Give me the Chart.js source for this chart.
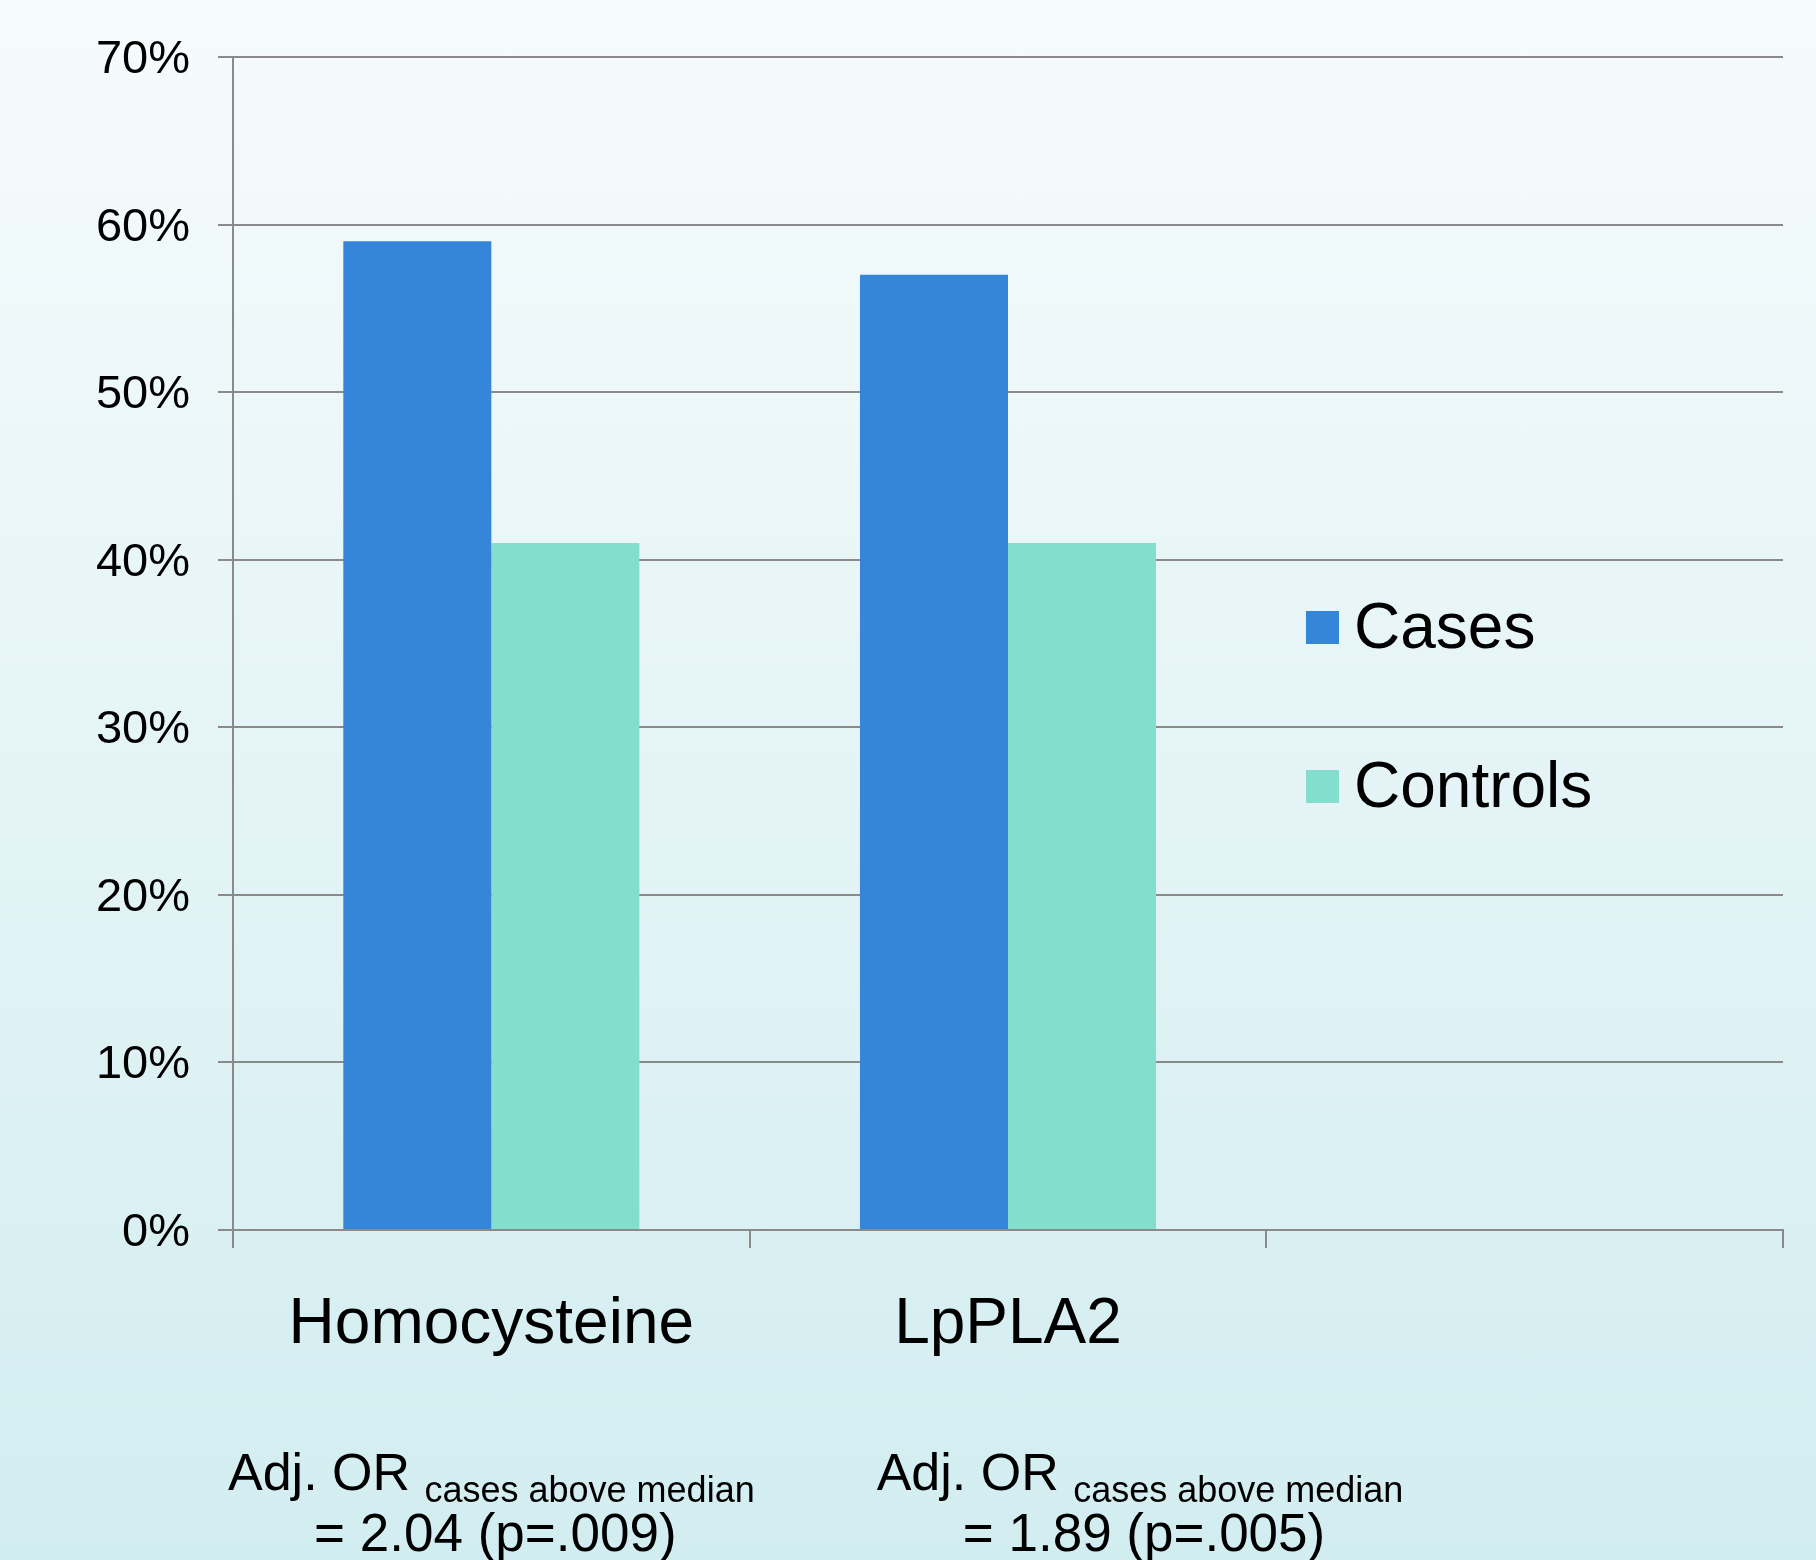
<!DOCTYPE html>
<html>
<head>
<meta charset="utf-8">
<script src="https://cdn.jsdelivr.net/npm/chart.js@4.4.0/dist/chart.umd.min.js"></script>
<style>
  html, body { margin: 0; padding: 0; }
  body {
    width: 1816px; height: 1560px;
    background: linear-gradient(to bottom, #f6fbfc 0%, #e6f5f7 45%, #d2edf0 100%);
  }
  #wrap { width: 1816px; height: 1560px; position: relative; }
</style>
</head>
<body>
<div id="wrap"><canvas id="barChart" width="1816" height="1560"></canvas></div>
<script>
var categories = ['Homocysteine', 'LpPLA2', ''];
var cases = [59, 57, null];
var controls = [41, 41, null];
var seriesNames = ['Cases', 'Controls'];
var orMain = ['Adj. OR', 'Adj. OR'];
var orSub = ['cases above median', 'cases above median'];
var orValue = ['= 2.04 (p=.009)', '= 1.89 (p=.005)'];

var FONT = '"Liberation Sans", Arial, Helvetica, sans-serif';

// legend drawn inside the plot, on the empty third slot
var insideLegend = {
    id: 'insideLegend',
    afterDraw: function(chart) {
        var ctx = chart.ctx;
        var rows = [628, 787];
        ctx.save();
        ctx.font = '64px ' + FONT;
        ctx.textBaseline = 'middle';
        ctx.textAlign = 'left';
        chart.data.datasets.forEach(function(ds, i) {
            ctx.fillStyle = ds.backgroundColor;
            ctx.fillRect(1306, rows[i] - 17, 33, 33);
            ctx.fillStyle = '#000';
            ctx.fillText(ds.label, 1354, rows[i] + 2);
        });
        ctx.restore();
    }
};

// odds ratio notes under each category
var orNotes = {
    id: 'orNotes',
    afterDraw: function(chart) {
        var ctx = chart.ctx;
        var x = chart.scales.x;
        var shift = [0, 132];
        ctx.save();
        ctx.fillStyle = '#000';
        ctx.textAlign = 'left';
        ctx.textBaseline = 'alphabetic';
        for (var i = 0; i < orMain.length; i++) {
            var cx = x.getPixelForValue(i) + shift[i];
            ctx.font = '52px ' + FONT;
            var w1 = ctx.measureText(orMain[i] + ' ').width;
            ctx.font = '36px ' + FONT;
            var w2 = ctx.measureText(orSub[i]).width;
            var start = cx - (w1 + w2) / 2;
            ctx.font = '52px ' + FONT;
            ctx.fillText(orMain[i], start, 1490);
            ctx.font = '36px ' + FONT;
            ctx.fillText(orSub[i], start + w1, 1502);
            ctx.font = '53px ' + FONT;
            ctx.textAlign = 'center';
            ctx.fillText(orValue[i], cx + 4, 1551);
            ctx.textAlign = 'left';
        }
        ctx.restore();
    }
};

var ctx = document.getElementById('barChart');
var myChart = new Chart(ctx, {
    type: 'bar',
    data: {
        labels: categories,
        datasets: [{
            label: seriesNames[0],
            data: cases,
            backgroundColor: '#3586d8',
            categoryPercentage: 0.573,
            barPercentage: 1.0
        }, {
            label: seriesNames[1],
            data: controls,
            backgroundColor: '#84decd',
            categoryPercentage: 0.573,
            barPercentage: 1.0
        }]
    },
    options: {
        responsive: false,
        animation: false,
        layout: {
            padding: { top: 57, right: 33, left: 0, bottom: 0 }
        },
        scales: {
            x: {
                grid: {
                    drawOnChartArea: false,
                    drawTicks: true,
                    tickLength: 18,
                    color: '#8a8a8a',
                    lineWidth: 2
                },
                border: { color: '#8a8a8a', width: 2 },
                ticks: {
                    color: '#000',
                    font: { family: FONT, size: 64 },
                    padding: 39,
                    maxRotation: 0,
                    autoSkip: false
                },
                afterFit: function(scale) { scale.height = 330; }
            },
            y: {
                min: 0,
                max: 70,
                grid: {
                    color: '#8a8a8a',
                    lineWidth: 2,
                    tickLength: 15
                },
                border: { color: '#8a8a8a', width: 2 },
                ticks: {
                    stepSize: 10,
                    color: '#000',
                    font: { family: FONT, size: 47, lineHeight: 1.1 },
                    padding: 28,
                    labelOffset: 3,
                    callback: function(v) { return v + '%'; }
                },
                afterFit: function(scale) { scale.width = 233; }
            }
        },
        plugins: {
            legend: { display: false },
            tooltip: { enabled: false }
        }
    },
    plugins: [insideLegend, orNotes]
});
</script>
</body>
</html>
